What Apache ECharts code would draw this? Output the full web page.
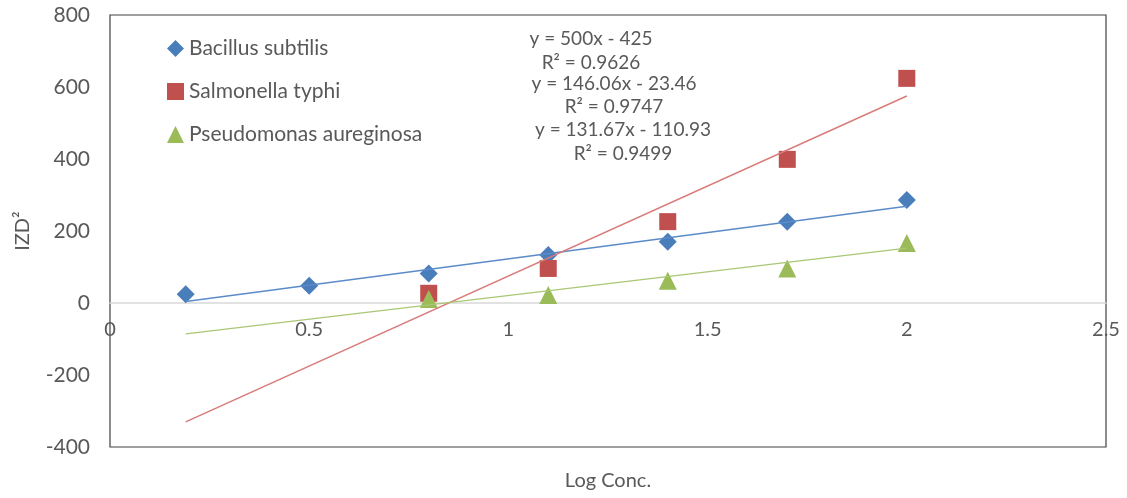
<!DOCTYPE html>
<html>
<head>
<meta charset="utf-8">
<script src="https://cdn.jsdelivr.net/npm/echarts@6/dist/echarts.min.js"></script>
<style>
  html, body { margin: 0; padding: 0; background: #fff; }
  #chart { width: 1127px; height: 498px; }
</style>
</head>
<body>
<div id="chart"></div>
<script>
// Log concentration of each dilution step
const logConc = [0.19, 0.5, 0.8, 1.1, 1.4, 1.7, 2.0];

// IZD² per organism (null where no zone was measured)
const bacillus    = [24, 48, 82, 133, 170, 226, 286];
const salmonella  = [null, null, 27, 96, 226, 399, 624];
const pseudomonas = [null, null, 11, 22, 62, 96, 167];

const seriesNames = ['Bacillus subtilis', 'Salmonella typhi', 'Pseudomonas aureginosa'];

// Linear fits: slope, intercept
const fitSlope     = [146.06, 500, 131.67];
const fitIntercept = [-23.46, -425, -110.93];

// Equation labels, listed top to bottom
const equationText = [
  'y = 500x - 425', 'R² = 0.9626',
  'y = 146.06x - 23.46', 'R² = 0.9747',
  'y = 131.67x - 110.93', 'R² = 0.9499'
];

const yTicks = { min: -400, max: 800, interval: 200 };
const xTicks = { min: 0, max: 2.5, interval: 0.5 };

const colors = ['#4A7EBB', '#C0504D', '#9BBB59'];
const lineColors = ['#5B8BC9', '#D87A78', '#A9C775'];
const symbols = ['diamond', 'rect', 'triangle'];
const values = [bacillus, salmonella, pseudomonas];

const textColor = '#595959';
const fontFamily = 'Lato, "Open Sans", sans-serif';

const xMin = Math.min(...logConc);
const xMax = Math.max(...logConc);

const scatterSeries = values.map((vals, i) => ({
  name: seriesNames[i],
  type: 'scatter',
  symbol: symbols[i],
  symbolSize: symbols[i] === 'rect' ? 17 : 18,
  itemStyle: { color: colors[i], opacity: 1 },
  z: 2,
  data: logConc.map((x, k) => vals[k] == null ? null : [x, vals[k]]).filter(d => d)
}));

const trendSeries = fitSlope.map((m, i) => ({
  name: seriesNames[i] + ' fit',
  type: 'line',
  symbol: 'none',
  silent: true,
  z: 3,
  lineStyle: { color: lineColors[i], width: 1.4 },
  data: [[xMin, m * xMin + fitIntercept[i]], [xMax, m * xMax + fitIntercept[i]]]
}));

// Equation label anchor points (centre x, centre y)
const eqPos = [[591, 39], [591, 63], [614, 84], [614, 107], [623, 130], [623, 154]];

// Plot area in pixels; the category axis sits on the y = 0 line
const plot = { left: 110, right: 21, top: 15, bottom: 51, height: 498 - 15 - 51 };
const zeroOffset = -plot.height * (0 - yTicks.min) / (yTicks.max - yTicks.min);

const chart = echarts.init(document.getElementById('chart'), null, { renderer: 'canvas' });
chart.setOption({
  animation: false,
  backgroundColor: '#fff',
  textStyle: { fontFamily },
  grid: {
    left: plot.left, right: plot.right, top: plot.top, bottom: plot.bottom,
    containLabel: false,
    outerBoundsMode: 'none',
    show: true, borderColor: '#404040', borderWidth: 1.2
  },
  legend: {
    data: seriesNames.map((n, i) => ({ name: n, icon: symbols[i] })),
    orient: 'vertical',
    left: 162, top: 33,
    itemWidth: 17, itemHeight: 17,
    itemGap: 22,
    textStyle: { color: textColor, fontSize: 21, fontFamily }
  },
  xAxis: {
    type: 'value',
    min: xTicks.min, max: xTicks.max, interval: xTicks.interval,
    offset: zeroOffset,
    axisLine: { onZero: false, lineStyle: { color: '#D9D9D9', width: 1.5 } },
    axisTick: { show: false },
    splitLine: { show: false },
    axisLabel: { color: textColor, fontSize: 20, fontFamily, margin: 17 }
  },
  yAxis: {
    type: 'value',
    min: yTicks.min, max: yTicks.max, interval: yTicks.interval,
    name: 'IZD²',
    nameLocation: 'middle',
    nameGap: 77,
    nameRotate: 90,
    nameTextStyle: { color: textColor, fontSize: 20, fontFamily },
    axisLine: { show: false },
    axisTick: { show: false },
    splitLine: { show: false },
    axisLabel: { color: textColor, fontSize: 21, fontFamily, margin: 20 }
  },
  graphic: [
    ...equationText.map((t, i) => ({
      type: 'text',
      x: eqPos[i][0], y: eqPos[i][1],
      style: {
        text: t, fill: textColor, fontSize: 19, fontFamily,
        textAlign: 'center', textVerticalAlign: 'middle'
      },
      z: 10
    })),
    {
      type: 'text',
      x: 608, y: 481,
      style: {
        text: 'Log Conc.', fill: textColor, fontSize: 20, fontFamily,
        textAlign: 'center', textVerticalAlign: 'middle'
      }
    }
  ],
  series: [...scatterSeries, ...trendSeries]
});
</script>
</body>
</html>
